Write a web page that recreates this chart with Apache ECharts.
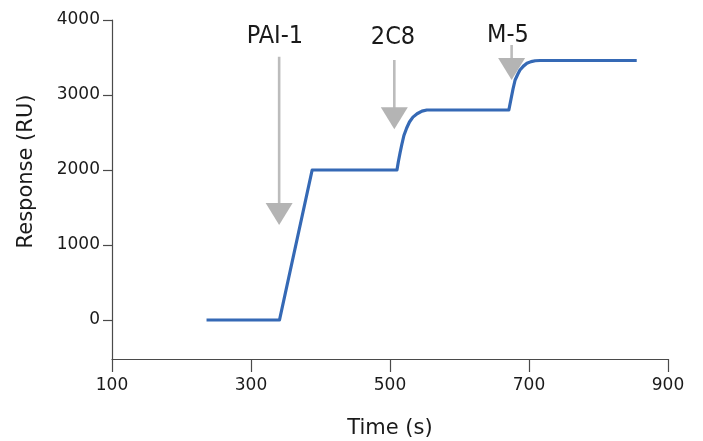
<!DOCTYPE html>
<html>
<head>
<meta charset="utf-8">
<title>Sensorgram</title>
<script src="https://cdn.jsdelivr.net/npm/echarts@6/dist/echarts.min.js"></script>
<style>
  html, body { margin: 0; padding: 0; background: #ffffff; }
  #chart { width: 703px; height: 441px; }
</style>
</head>
<body>
<div id="chart"></div>
<script>
// Axis ticks
const timeTicks = [100, 300, 500, 700, 900];
const responseTicks = [0, 1000, 2000, 3000, 4000];

// Sensorgram trace: time (s) and response (RU)
const sensorTime = [
  236, 341, 388, 510,
  512, 514.5, 517, 520, 524, 528, 533, 539, 546, 553,
  671, 674, 677, 680, 684, 687, 692, 697, 703, 709, 716, 855
];
const sensorResponse = [
  0, 0, 2000, 2000,
  2110, 2230, 2340, 2460, 2560, 2640, 2705, 2750, 2785, 2800,
  2800, 2940, 3080, 3200, 3280, 3333, 3385, 3422, 3445, 3457, 3460, 3460
];

// Injection markers
const injectionNames = ['PAI-1', '2C8', 'M-5'];
const injectionTime = [340.5, 506.2, 675];
const arrowTop = [3510, 3467, 3667];
const arrowTip = [1267, 2543, 3200];
const labelTime = [334.5, 504.3, 669.8];
const labelResponse = [3780, 3773, 3800];

const trace = sensorTime.map((t, i) => [t, sensorResponse[i]]);
const arrows = injectionNames.map((n, i) => [
  injectionTime[i], arrowTop[i], arrowTip[i], labelTime[i], labelResponse[i], n
]);

const textColor = '#1a1a1a';
const axisColor = '#4a4a4a';
const arrowColor = '#bcbcbc';

const chart = echarts.init(document.getElementById('chart'), null, { renderer: 'canvas' });

chart.setOption({
  animation: false,
  backgroundColor: '#ffffff',
  grid: {
    left: 112, right: 35, top: 20, bottom: 82,
    containLabel: false,
    outerBoundsMode: 'none'
  },
  xAxis: {
    type: 'value',
    min: 100,
    max: 900,
    interval: 200,
    name: 'Time (s)',
    nameLocation: 'middle',
    nameGap: 59,
    nameTextStyle: { fontFamily: 'DejaVu Sans', fontSize: 21, color: textColor },
    axisLine: { show: true, onZero: false, lineStyle: { color: axisColor, width: 1.2 } },
    axisTick: { show: true, length: 13, customValues: timeTicks, lineStyle: { color: axisColor, width: 1.2 } },
    axisLabel: {
      customValues: timeTicks,
      margin: 18,
      fontFamily: 'DejaVu Sans',
      fontSize: 17,
      color: textColor,
      formatter: v => String(v)
    },
    splitLine: { show: false }
  },
  yAxis: {
    type: 'value',
    min: -520,
    max: 4000,
    name: 'Response (RU)',
    nameLocation: 'middle',
    nameGap: 75,
    nameTextStyle: {
      fontFamily: 'DejaVu Sans',
      fontSize: 21,
      color: textColor,
      padding: [0, 0, 0, 36]
    },
    axisLine: { show: true, onZero: false, lineStyle: { color: axisColor, width: 1.2 } },
    axisTick: { show: true, length: 9, customValues: responseTicks, lineStyle: { color: axisColor, width: 1.2 } },
    axisLabel: {
      customValues: responseTicks,
      margin: 12,
      fontFamily: 'DejaVu Sans',
      fontSize: 17,
      color: textColor,
      formatter: v => String(v)
    },
    splitLine: { show: false }
  },
  series: [
    {
      type: 'line',
      data: trace,
      showSymbol: false,
      smooth: false,
      lineStyle: { color: '#3569b5', width: 3.2, join: 'round', cap: 'butt' },
      z: 3
    },
    {
      type: 'custom',
      data: arrows,
      z: 2,
      renderItem: function (params, api) {
        const top = api.coord([api.value(0), api.value(1)]);
        const tip = api.coord([api.value(0), api.value(2)]);
        const lab = api.coord([api.value(3), api.value(4)]);
        const name = injectionNames[params.dataIndex];
        const headH = 22, headW = 27;
        return {
          type: 'group',
          children: [
            {
              type: 'line',
              shape: { x1: top[0], y1: top[1], x2: tip[0], y2: tip[1] - headH + 1 },
              style: { stroke: arrowColor, lineWidth: 2.6 }
            },
            {
              type: 'polygon',
              shape: {
                points: [
                  [tip[0] - headW / 2, tip[1] - headH],
                  [tip[0] + headW / 2, tip[1] - headH],
                  [tip[0], tip[1]]
                ]
              },
              style: { fill: '#b4b4b4' }
            },
            {
              type: 'text',
              x: lab[0],
              y: lab[1],
              style: {
                text: name,
                fontFamily: 'DejaVu Sans Condensed',
                fontSize: 25,
                fill: textColor,
                align: 'center',
                verticalAlign: 'middle'
              }
            }
          ]
        };
      }
    }
  ]
});
</script>
</body>
</html>
